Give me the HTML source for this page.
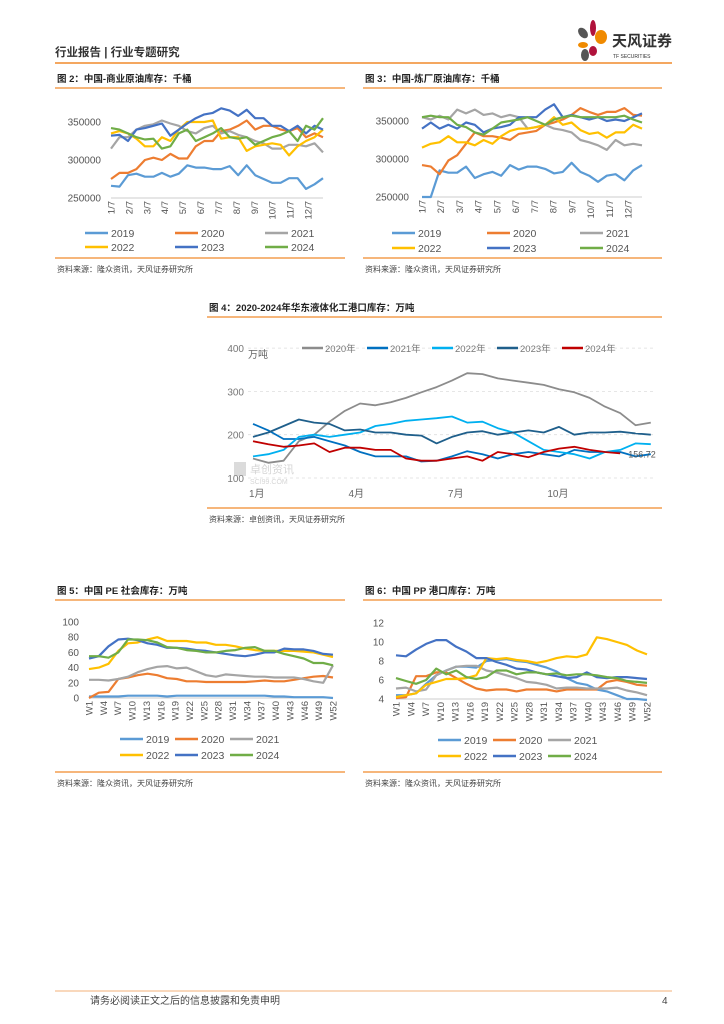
<!DOCTYPE html>
<html><head><meta charset="utf-8"><style>
body{margin:0;background:#fff;}
svg{display:block;font-family:"Liberation Sans","Noto Sans CJK SC",sans-serif;}
</style></head><body>
<svg id="pg" width="724" height="1024" viewBox="0 0 724 1024" xmlns="http://www.w3.org/2000/svg">
<g>
<text x="55" y="56" font-size="11.5" font-weight="bold" fill="#333">行业报告 | 行业专题研究</text>
<line x1="55" y1="63" x2="672" y2="63" stroke="#F08A2C" stroke-width="1.5"/>
<g>
<ellipse cx="583" cy="33" rx="4" ry="6" fill="#555" transform="rotate(-40 583 33)"/>
<ellipse cx="593" cy="28" rx="3" ry="8" fill="#B0123C"/>
<ellipse cx="601" cy="37" rx="6" ry="7" fill="#F08A00"/>
<ellipse cx="583" cy="45" rx="5" ry="3" fill="#F08A00"/>
<ellipse cx="593" cy="51" rx="4" ry="5" fill="#B0123C"/>
<ellipse cx="585" cy="55" rx="4" ry="6" fill="#555"/>
<text x="612" y="46" font-size="15" font-weight="bold" fill="#333">天风证券</text>
<text x="613" y="58" font-size="5" fill="#333">TF SECURITIES</text>
</g>
</g>
<g id="frames"></g>
<g id="charts"></g>
<g>
<line x1="55" y1="991" x2="672" y2="991" stroke="#F3B27A" stroke-width="1"/>
<text x="90" y="1004" font-size="10" fill="#444">请务必阅读正文之后的信息披露和免责申明</text>
<text x="662" y="1004" font-size="10" fill="#444">4</text>
</g>
</svg>
<script>
// ---- chart 2: commercial crude (thousand barrels) ----
const c2Ticks = ["1/7","2/7","3/7","4/7","5/7","6/7","7/7","8/7","9/7","10/7","11/7","12/7"];
const c2Y = [250000,300000,350000];
const c2_2019 = [266,265,280,282,278,278,283,278,282,293,290,290,288,288,292,280,293,280,275,270,270,276,276,262,268,276];
const c2_2020 = [275,283,283,288,300,303,300,308,302,302,318,325,325,338,340,345,352,340,345,345,340,338,342,330,335,330];
const c2_2021 = [315,330,330,340,345,347,352,348,345,338,335,342,345,335,338,333,330,325,322,315,315,320,320,318,322,310];
const c2_2022 = [335,338,335,328,318,318,330,325,340,350,350,350,352,328,330,330,312,318,320,322,320,306,318,325,330,340];
const c2_2023 = [332,333,325,340,342,345,348,332,340,348,355,360,362,368,365,358,366,355,355,345,345,338,345,335,345,340];
const c2_2024 = [342,340,335,330,327,328,315,318,335,340,325,330,335,342,330,328,330,320,325,330,333,338,325,345,340,355];
// ---- chart 3: refinery crude ----
const c3Ticks = ["1/7","2/7","3/7","4/7","5/7","6/7","7/7","8/7","9/7","10/7","11/7","12/7"];
const c3Y = [250000,300000,350000];
const c3_2019 = [250,250,285,282,282,290,275,280,283,278,292,286,290,290,287,281,283,295,283,278,270,278,280,272,285,292];
const c3_2020 = [292,290,280,298,305,320,335,330,330,328,325,333,335,337,345,348,352,358,367,362,358,362,362,367,358,357];
const c3_2021 = [355,352,357,352,365,360,365,358,360,355,358,355,340,342,345,340,338,335,325,322,318,312,325,318,320,318];
const c3_2022 = [315,320,322,330,322,322,318,325,320,330,337,340,340,342,345,355,345,348,338,333,335,328,335,335,345,340];
const c3_2023 = [340,348,340,345,340,348,345,335,340,342,345,355,355,355,365,372,355,358,355,352,355,350,352,350,355,360];
const c3_2024 = [355,357,355,355,345,342,335,332,340,348,350,352,355,350,345,352,355,357,355,355,355,355,355,357,352,348];
// ---- chart 4: East China liquid chemicals (weeks 0..52 step 2) ----
const c4Months = ["1月","4月","7月","10月"];
const c4MonthWeeks = [0,13,26,39];
const c4Y = [100,200,300,400];
const c4_2020 = [145,135,140,185,200,230,255,272,268,275,285,298,310,325,342,340,330,325,320,315,305,298,285,265,250,222,228];
const c4_2021 = [225,210,190,190,195,185,175,160,150,150,150,138,140,150,162,155,145,155,160,155,150,165,160,160,160,150,155];
const c4_2022 = [150,155,165,195,200,195,200,205,220,225,232,235,238,242,228,230,215,205,185,165,160,155,145,160,165,180,178];
const c4_2023 = [195,205,220,235,228,225,210,212,205,205,200,198,180,195,205,208,200,205,210,205,218,200,205,205,207,203,200];
const c4_2024 = [185,178,172,175,180,160,170,170,165,165,145,140,140,145,150,140,160,155,148,160,168,172,165,160,156.72,null,null];
// ---- chart 5: PE social inventory ----
const c5Ticks = ["W1","W4","W7","W10","W13","W16","W19","W22","W25","W28","W31","W34","W37","W40","W43","W46","W49","W52"];
const c5Y = [0,20,40,60,80,100];
const c5_2019 = [2,2,2,2,3,3,3,3,2,3,3,3,3,3,3,3,3,3,3,2,2,1,1,1,1,0];
const c5_2020 = [0,7,8,25,27,30,32,30,26,25,22,22,21,21,21,21,21,22,23,22,22,24,26,28,29,27];
const c5_2021 = [24,24,23,25,28,34,38,41,42,39,40,35,30,28,31,30,29,28,28,27,27,27,25,22,20,43];
const c5_2022 = [38,40,45,62,72,73,77,80,75,75,75,73,73,70,70,68,65,63,62,62,62,62,61,60,57,54];
const c5_2023 = [52,55,68,77,78,76,72,70,66,66,65,63,62,60,58,56,55,57,60,60,65,64,64,62,58,57];
const c5_2024 = [55,55,53,60,77,77,76,73,67,66,63,62,60,60,62,63,66,67,62,62,58,55,52,46,46,43];
// ---- chart 6: PP port inventory ----
const c6Ticks = ["W1","W4","W7","W10","W13","W16","W19","W22","W25","W28","W31","W34","W37","W40","W43","W46","W49","W52"];
const c6Y = [4,6,8,10,12];
const c6_2019 = [4.4,4.4,4.6,5.6,6.5,7.0,7.4,7.4,7.3,8.0,8.1,8.2,8.0,7.9,7.6,7.3,6.9,6.2,5.7,5.5,5.0,4.8,4.4,4.0,4.0,3.9];
const c6_2020 = [4.1,4.2,6.4,6.4,6.8,6.8,6.2,5.6,5.1,4.9,5.0,5.0,4.8,5.0,5.0,5.0,4.8,5.0,5.0,5.0,5.0,5.8,6.0,5.8,5.5,5.4];
const c6_2021 = [5.1,5.2,4.8,5.0,6.5,7.0,7.4,7.5,7.5,7.0,6.8,6.5,6.2,5.8,5.7,5.5,5.1,5.2,5.2,5.1,5.1,5.1,5.2,4.9,4.7,4.4];
const c6_2022 = [4.2,4.4,4.6,5.5,5.8,6.1,6.1,6.2,6.5,8.3,8.2,8.3,8.1,8.0,7.8,8.0,8.3,8.5,8.4,8.7,10.5,10.3,10.0,9.7,9.1,8.7];
const c6_2023 = [8.6,8.5,9.2,9.8,10.2,10.2,9.5,9.0,8.3,8.3,7.9,7.6,7.2,7.1,6.8,6.6,6.4,6.2,6.3,6.8,6.3,6.2,6.3,6.3,6.2,6.1];
const c6_2024 = [6.2,5.9,5.6,6.0,7.2,6.6,7.0,6.3,6.1,6.3,7.0,7.0,6.6,6.8,6.8,6.6,6.7,6.5,6.6,6.6,6.5,6.3,6.2,5.9,5.8,5.7];

const NS="http://www.w3.org/2000/svg";
const COL={"2019":"#5B9BD5","2020":"#ED7D31","2021":"#A5A5A5","2022":"#FFC000","2023":"#4472C4","2024":"#70AD47"};
function mk(tag,attrs,parent,txt){const e=document.createElementNS(NS,tag);for(const k in attrs)e.setAttribute(k,attrs[k]);if(txt!==undefined)e.textContent=txt;parent.appendChild(e);return e;}
const frames=document.getElementById('frames'), charts=document.getElementById('charts');

function frame(x1,x2,ty,title,by,src,name){
  const g=mk('g',{},frames);
  
  
  const t=mk('text',{x:x1+2,y:ty,'font-size':9.5,'font-weight':'bold',fill:'#222'},g,title);
  
  
  mk('line',{x1:x1,x2:x2,y1:ty+6,y2:ty+6,stroke:'#F08A2C','stroke-width':1.3},g);
  mk('line',{x1:x1,x2:x2,y1:by,y2:by,stroke:'#F08A2C','stroke-width':1.3},g);
  const s=mk('text',{x:x1+2,y:by+14,'font-size':8,fill:'#444'},g,src);
  
  
}
frame(55,345,82,"图 2：中国-商业原油库存：千桶",258,"资料来源：隆众资讯，天风证券研究所","fig2");
frame(363,662,82,"图 3：中国-炼厂原油库存：千桶",258,"资料来源：隆众资讯，天风证券研究所","fig3");
frame(207,662,311,"图 4：2020-2024年华东液体化工港口库存：万吨",508,"资料来源：卓创资讯，天风证券研究所","fig4");
frame(55,345,594,"图 5：中国 PE 社会库存：万吨",772,"资料来源：隆众资讯，天风证券研究所","fig5");
frame(363,662,594,"图 6：中国 PP 港口库存：万吨",772,"资料来源：隆众资讯，天风证券研究所","fig6");

function lineChart(o){
  const g=mk('g',{},charts);
  
  
  const ys=v=>o.y0+(v-o.vmin)/(o.vmax-o.vmin)*(o.y1-o.y0);
  const xs=i=>o.x0+i/(o.n-1)*(o.x1-o.x0);
  o.yTicks.forEach(v=>{
    const t=mk('text',{x:o.ylx,y:ys(v/o.yDiv)+3.5,'font-size':o.yfs||10,fill:'#555','text-anchor':'end'},g,String(v));
    
    
  });
  mk('line',{x1:o.x0,x2:o.x1,y1:o.y0,y2:o.y0,stroke:'#bbb','stroke-width':0.8},g);
  o.xTicks.forEach((lb,i)=>{
    const x=o.tx0+i*(o.tx1-o.tx0)/(o.xTicks.length-1);
    const t=mk('text',{x:0,y:0,'font-size':o.xfs||10,fill:'#555','text-anchor':'end',transform:`translate(${x+3.5},${o.y0+3}) rotate(-90)`},g,lb);
    
    
  });
  Object.keys(o.series).forEach(k=>{
    const d=o.series[k].map((v,i)=>(i?'L':'M')+xs(i).toFixed(1)+','+ys(v).toFixed(1)).join('');
    const p=mk('path',{d:d,fill:'none',stroke:COL[k],'stroke-width':2.2,'stroke-linejoin':'round'},g);
    
    
  });
  const keys=Object.keys(o.series);
  keys.forEach((k,i)=>{
    const cx=o.lg[i%3], cy=o.lgy[Math.floor(i/3)];
    const lg=mk('g',{},g);
    
    
    mk('line',{x1:cx,x2:cx+23,y1:cy,y2:cy,stroke:COL[k],'stroke-width':2.5},lg);
    mk('text',{x:cx+26,y:cy+4,'font-size':10.5,fill:'#555'},lg,k);
  });
}
lineChart({name:'fig2-chart',n:26,x0:111,x1:323,y0:198,y1:122,vmin:250,vmax:350,yDiv:1000,yTicks:c2Y,ylx:101,
  xTicks:c2Ticks,tx0:111,tx1:308,xfs:9.5,
  series:{"2019":c2_2019,"2020":c2_2020,"2021":c2_2021,"2022":c2_2022,"2023":c2_2023,"2024":c2_2024},
  lg:[85,175,265],lgy:[233,247]});
lineChart({name:'fig3-chart',n:26,x0:422,x1:642,y0:197,y1:121,vmin:250,vmax:350,yDiv:1000,yTicks:c3Y,ylx:409,
  xTicks:c3Ticks,tx0:422,tx1:628,xfs:9.5,
  series:{"2019":c3_2019,"2020":c3_2020,"2021":c3_2021,"2022":c3_2022,"2023":c3_2023,"2024":c3_2024},
  lg:[392,487,580],lgy:[233,248]});
lineChart({name:'fig5-chart',n:26,x0:89,x1:333,y0:698,y1:622,vmin:0,vmax:100,yDiv:1,yTicks:c5Y,ylx:79,
  xTicks:c5Ticks,tx0:89,tx1:333,xfs:9.5,
  series:{"2019":c5_2019,"2020":c5_2020,"2021":c5_2021,"2022":c5_2022,"2023":c5_2023,"2024":c5_2024},
  lg:[120,175,230],lgy:[739,755]});
lineChart({name:'fig6-chart',n:26,x0:396,x1:647,y0:699,y1:623,vmin:4,vmax:12,yDiv:1,yTicks:c6Y,ylx:384,
  xTicks:c6Ticks,tx0:396,tx1:647,xfs:9.5,
  series:{"2019":c6_2019,"2020":c6_2020,"2021":c6_2021,"2022":c6_2022,"2023":c6_2023,"2024":c6_2024},
  lg:[438,493,548],lgy:[740,756]});

// ---- chart 4 ----
(function(){
  const g=mk('g',{},charts);
  
  
  const X0=253, WK=7.65;
  const ys=v=>478-(v-100)*0.433;
  const xw=w=>X0+w*WK;
  c4Y.forEach(v=>{
    mk('line',{x1:248,x2:655,y1:ys(v),y2:ys(v),stroke:'#ddd','stroke-dasharray':'3,3','stroke-width':0.8},g);
    const t=mk('text',{x:244,y:ys(v)+4,'font-size':10,fill:'#777','text-anchor':'end'},g,String(v));
    
    
  });
  mk('text',{x:248,y:358,'font-size':10,fill:'#666'},g,'万吨');
  c4Months.forEach((m,i)=>{
    const t=mk('text',{x:xw(c4MonthWeeks[i])-4,y:497,'font-size':10,fill:'#666'},g,m);
    
    
  });
  const wm=mk('g',{opacity:0.35},g);
  
  
  mk('rect',{x:234,y:462,width:12,height:14,fill:'#999'},wm);
  mk('text',{x:250,y:473,'font-size':11,fill:'#888'},wm,'卓创资讯');
  mk('text',{x:250,y:484,'font-size':7,fill:'#888'},wm,'SCI99.COM');
  const s4={"2020年":[c4_2020,"#8C8C8C"],"2021年":[c4_2021,"#0070C0"],"2022年":[c4_2022,"#00B0F0"],"2023年":[c4_2023,"#1F5F8B"],"2024年":[c4_2024,"#C00000"]};
  const lgx=[302,367,432,497,562];
  Object.keys(s4).forEach((k,j)=>{
    const arr=s4[k][0];let d='';let started=false;
    arr.forEach((v,i)=>{if(v===null)return;d+=(started?'L':'M')+xw(i*2).toFixed(1)+','+ys(v).toFixed(1);started=true;});
    const p=mk('path',{d:d,fill:'none',stroke:s4[k][1],'stroke-width':1.8,'stroke-linejoin':'round'},g);
    
    
    const lg=mk('g',{},g);
    
    
    mk('line',{x1:lgx[j],x2:lgx[j]+21,y1:348,y2:348,stroke:s4[k][1],'stroke-width':2.5},lg);
    mk('text',{x:lgx[j]+23,y:352,'font-size':9.5,fill:'#777'},lg,k);
  });
  const last=c4_2024.filter(v=>v!==null);
  const lb=mk('text',{x:xw((last.length-1)*2)+8,y:ys(last[last.length-1])+4,'font-size':9,fill:'#555'},g,String(last[last.length-1]));
  
  
})();
</script>
</body></html>
